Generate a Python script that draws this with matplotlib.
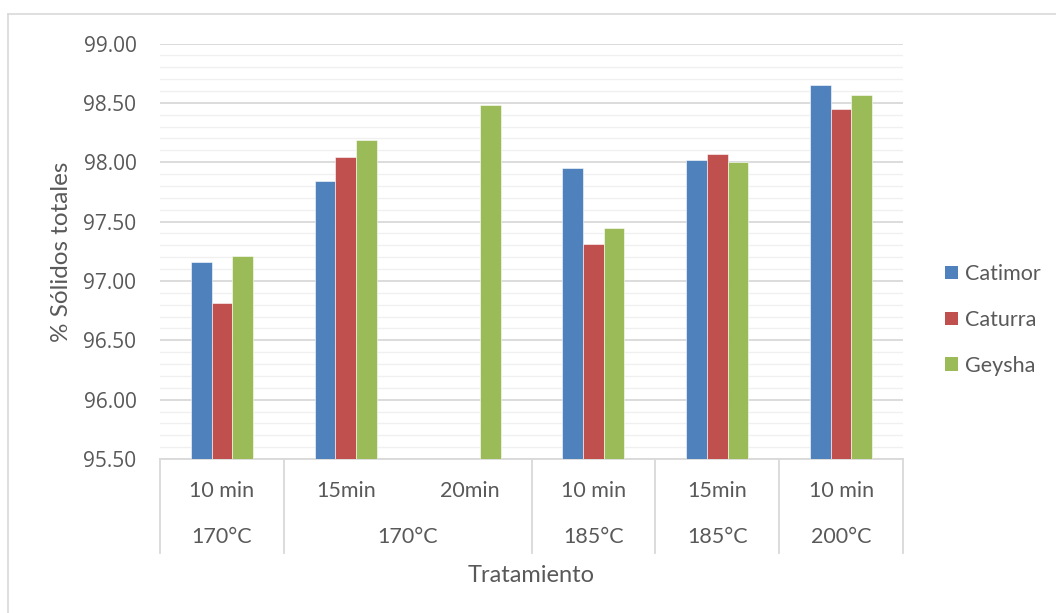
import matplotlib.pyplot as plt
import numpy as np
from matplotlib.lines import Line2D
from matplotlib.patches import Patch

# Datos: % sólidos totales por variedad y tratamiento
tiempos = ["10 min", "15min", "20min", "10 min", "15min", "10 min"]
temperaturas = ["170°C", "170°C", "185°C", "185°C", "200°C"]
grupos_temp = [1, 2, 1, 1, 1]  # número de tiempos bajo cada temperatura

variedades = ["Catimor", "Caturra", "Geysha"]
catimor = [97.16, 97.84, np.nan, 97.955, 98.015, 98.65]
caturra = [96.81, 98.04, np.nan, 97.31, 98.07, 98.447]
geysha = [97.21, 98.19, 98.48, 97.45, 98.00, 98.567]

colores = ["#4F81BD", "#C0504D", "#9BBB59"]
gris_texto = "#595959"
gris_linea = "#d9d9d9"

plt.rcParams["font.family"] = ["Lato", "DejaVu Sans"]
fuente_ticks = ["Open Sans", "DejaVu Sans"]

W, H = 1056, 613
fig = plt.figure(figsize=(W / 100, H / 100), dpi=100)
ax = fig.add_axes([160 / W, 1 - 459 / H, (903 - 160) / W, (459 - 43.5) / H])

x = np.arange(len(tiempos))
ancho = 0.167
for i, (serie, color) in enumerate(zip([catimor, caturra, geysha], colores)):
    ax.bar(x + (i - 1) * ancho, serie, width=ancho, bottom=0, color=color,
           edgecolor="white", linewidth=0.4, zorder=3, label=variedades[i])

ax.set_ylim(95.5, 99.0)
ax.set_xlim(-0.5, len(tiempos) - 0.5)
ax.set_yticks(np.arange(95.5, 99.01, 0.5))
ax.set_yticks(np.arange(95.5, 99.01, 0.1), minor=True)
ax.set_yticklabels([f"{v:.2f}" for v in np.arange(95.5, 99.01, 0.5)],
                   fontsize=15, color=gris_texto, family=fuente_ticks)
ax.tick_params(axis="y", which="both", length=0, pad=17)
ax.grid(axis="y", which="minor", color="#f0f0f0", linewidth=1.0, zorder=0)
ax.grid(axis="y", which="major", color=gris_linea, linewidth=1.3, zorder=1)
ax.set_xticks([])
for s in ["left", "right", "top"]:
    ax.spines[s].set_visible(False)
ax.spines["bottom"].set_color(gris_linea)
ax.spines["bottom"].set_linewidth(1.3)

# Eje de categorías de dos niveles
trans = ax.get_xaxis_transform()
y_fila1 = -(491 - 459) / (459 - 43.5)
y_fila2 = -(537 - 459) / (459 - 43.5)
y_fin = -(553 - 459) / (459 - 43.5)
for xi, t in zip(x, tiempos):
    ax.text(xi, y_fila1, t, transform=trans, ha="center", va="center",
            fontsize=15.5, color=gris_texto)

inicio = 0
bordes = [-0.5]
for temp, n in zip(temperaturas, grupos_temp):
    centro = inicio + (n - 1) / 2
    ax.text(centro, y_fila2, temp, transform=trans, ha="center", va="center",
            fontsize=15.5, color=gris_texto)
    inicio += n
    bordes.append(inicio - 0.5)
for b in bordes:
    ax.add_line(Line2D([b, b], [0, y_fin], transform=trans, color=gris_linea,
                       linewidth=1.3, clip_on=False))

fig.text(531 / W, 1 - 576 / H, "Tratamiento", ha="center", va="center",
         fontsize=17, color=gris_texto)
fig.text(62 / W, 1 - 252 / H, "% Sólidos totales", ha="center", va="center",
         rotation=90, fontsize=17.5, color=gris_texto)

handles = [Patch(facecolor=c, edgecolor="none") for c in colores]
fig.legend(handles, variedades, loc="center left",
           bbox_to_anchor=(945 / W, 1 - 320 / H), frameon=False,
           fontsize=15.5, labelcolor=gris_texto, handlelength=0.6,
           handleheight=0.6, handletextpad=0.35, labelspacing=1.2,
           borderaxespad=0, borderpad=0)

# Marco exterior del gráfico
fig.add_artist(Line2D([8 / W, 8 / W], [0, 1 - 14 / H], color=gris_linea,
                      linewidth=1.2, transform=fig.transFigure))
fig.add_artist(Line2D([8 / W, 1], [1 - 14 / H, 1 - 14 / H], color=gris_linea,
                      linewidth=1.2, transform=fig.transFigure))

fig.savefig("out.png", dpi=100, facecolor="white")
